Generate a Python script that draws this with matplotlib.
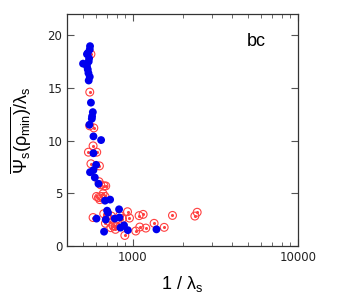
import matplotlib
matplotlib.use("Agg")
import matplotlib.pyplot as plt
from matplotlib.ticker import FixedLocator, NullFormatter, FuncFormatter

plt.rcParams["mathtext.fontset"] = "custom"
plt.rcParams["mathtext.rm"] = "Liberation Sans"
plt.rcParams["mathtext.it"] = "Liberation Sans"
plt.rcParams["mathtext.sf"] = "Liberation Sans"
plt.rcParams["mathtext.default"] = "regular"

# Blue filled circles
blue_x = [551, 549, 534, 528, 544, 500, 541, 528, 534, 539, 549, 541,
          558, 573, 567, 565, 546, 578, 643, 578, 600, 551, 578, 589, 620,
          679, 729, 699, 708, 826, 603, 686, 778, 830, 842, 885, 670, 933, 1391]
blue_y = [18.96, 18.64, 18.3, 18.2, 17.8, 17.3, 17.5, 17.06, 16.75, 16.4, 16.05, 15.7,
          13.6, 12.7, 12.3, 12.07, 11.5, 10.4, 10.05, 8.8, 7.7, 7.0, 7.2, 6.5, 5.9,
          4.3, 4.4, 3.35, 3.16, 3.48, 2.6, 2.5, 2.6, 2.7, 1.74, 1.96, 1.36, 1.5, 1.58]

# Red open circles
red_x = [558, 549, 549, 581, 575, 539, 605, 558, 628, 625, 640, 670, 686,
         603, 620, 646, 631, 661, 679, 575, 667, 702, 743, 683, 726, 760, 736,
         785, 785, 815, 866, 929, 955, 895, 1042, 1102, 1092, 1155, 1199, 1346,
         1549, 1739, 2375, 2453, 834]
red_y = [18.2, 14.6, 11.4, 11.2, 9.5, 8.9, 8.9, 7.8, 7.6, 6.1, 5.8, 5.7, 5.7,
         4.7, 4.6, 4.7, 4.4, 4.96, 4.7, 2.7, 3.06, 2.84, 2.84, 2.15, 2.27, 1.9, 1.74,
         1.9, 1.58, 2.2, 2.6, 3.25, 2.65, 1.0, 1.42, 1.8, 2.88, 3.0, 1.7, 2.15,
         1.77, 2.9, 2.84, 3.2, 2.9]

y_ticks = [0, 5, 10, 15, 20]
x_major = [1000, 10000]

fig = plt.figure(figsize=(3.51, 3.0), dpi=100)
ax = fig.add_axes([0.191, 0.18, 0.658, 0.773])

red = "#ff4040"
ax.scatter(red_x, red_y, s=32, facecolors="none", edgecolors=red, linewidths=0.8, zorder=2)
ax.scatter(red_x, red_y, s=1.5, color=red, zorder=2)
ax.scatter(blue_x, blue_y, s=32, color="#0000ee", edgecolors="none", zorder=3)

ax.set_xscale("log")
ax.set_xlim(400, 10000)
ax.set_ylim(0, 22)
ax.xaxis.set_major_locator(FixedLocator(x_major))
ax.xaxis.set_major_formatter(FuncFormatter(lambda v, p: f"{int(round(v))}"))
minors = [m * d for d in (100, 1000) for m in range(2, 10) if 400 <= m * d <= 10000]
ax.xaxis.set_minor_locator(FixedLocator(minors))
ax.xaxis.set_minor_formatter(NullFormatter())
ax.set_yticks(y_ticks)

ax.tick_params(which="both", direction="in", top=True, right=True, color="#555555",
               labelsize=8.5, labelcolor="#222222")
ax.tick_params(which="major", length=5)
ax.tick_params(which="minor", length=3)
for s in ax.spines.values():
    s.set_color("#333333")
    s.set_linewidth(0.9)

ax.set_xlabel(r"1 / $\lambda_{s}$", fontsize=13, family="Liberation Sans", labelpad=7)
ax.set_ylabel(r"$\overline{\Psi_{s}(\rho_{min})}/\lambda_{s}$", fontsize=13,
              family="Liberation Sans", labelpad=10)
ax.text(0.82, 0.88, "bc", transform=ax.transAxes, fontsize=13, family="Liberation Sans",
        ha="center", va="center")

fig.savefig("out.png", dpi=100)
